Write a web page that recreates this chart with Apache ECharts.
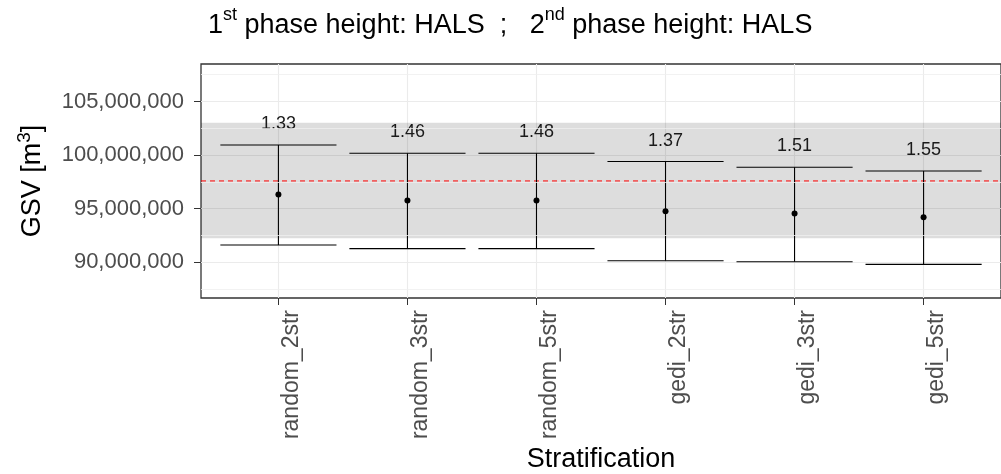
<!DOCTYPE html>
<html>
<head>
<meta charset="utf-8">
<script src="https://cdn.jsdelivr.net/npm/echarts@6/dist/echarts.min.js"></script>
<style>
  html, body { margin: 0; padding: 0; background: #fff; }
  #main { width: 1001px; height: 474px; }
</style>
</head>
<body>
<div id="main"></div>
<script>
// data
var categories = ['random_2str', 'random_3str', 'random_5str', 'gedi_2str', 'gedi_3str', 'gedi_5str'];
var lowerVals = [91.60e6, 91.26e6, 91.26e6, 90.13e6, 90.04e6, 89.79e6];
var meanVals  = [96.32e6, 95.76e6, 95.76e6, 94.76e6, 94.55e6, 94.20e6];
var upperVals = [100.93e6, 100.16e6, 100.16e6, 99.39e6, 98.86e6, 98.51e6];
var ratioLabels = ['1.33', '1.46', '1.48', '1.37', '1.51', '1.55'];

var bandLow = 92.23e6;
var bandHigh = 103.01e6;
var refValue = 97.58e6;

var yMajorBreaks = [90e6, 95e6, 100e6, 105e6];
var yMinorBreaks = [87.5e6, 92.5e6, 97.5e6, 102.5e6, 107.5e6];
var xPositions = categories.map(function (c, i) { return i + 1; });

var FONT = 'Liberation Sans, Arial, sans-serif';

var barData = categories.map(function (c, i) {
    return [i + 1, lowerVals[i], meanVals[i], upperVals[i], i];
});

var chart = echarts.init(document.getElementById('main'), null, { renderer: 'canvas' });

var option = {
    animation: false,
    backgroundColor: '#fff',
    title: {
        left: 203,
        top: 1,
        text: '{n|1}{s|st}{n| phase height: HALS  ;   2}{s|nd}{n| phase height: HALS}',
        textStyle: {
            fontFamily: FONT,
            fontWeight: 'normal',
            rich: {
                n: { fontSize: 27, fontFamily: FONT, fontWeight: 'normal', color: '#000', lineHeight: 40 },
                s: { fontSize: 18, fontFamily: FONT, fontWeight: 'normal', color: '#000', lineHeight: 18, verticalAlign: 'top' }
            }
        }
    },
    grid: {
        left: 201,
        right: -9,
        top: 64,
        bottom: 175,
        show: true,
        borderColor: '#333',
        borderWidth: 1.3,
        backgroundColor: 'transparent'
    },
    xAxis: {
        type: 'value',
        min: 0.4,
        max: 6.6,
        name: 'Stratification',
        nameLocation: 'middle',
        nameGap: 148,
        nameTextStyle: { fontFamily: FONT, fontSize: 27, color: '#000' },
        axisLine: { show: false },
        axisTick: {
            show: true,
            customValues: xPositions,
            length: 7,
            lineStyle: { color: '#333', width: 1 }
        },
        axisLabel: {
            customValues: xPositions,
            rotate: 90,
            margin: 12,
            fontFamily: FONT,
            fontSize: 23,
            color: '#4D4D4D',
            verticalAlign: 'top',
            padding: [2, 0, 0, 0],
            formatter: function (v) { return categories[Math.round(v) - 1] || ''; }
        },
        splitLine: { show: true, lineStyle: { color: '#EBEBEB', width: 1.1 } }
    },
    yAxis: {
        type: 'value',
        min: 86.65e6,
        max: 108.5e6,
        name: '{a|GSV [m}{s|3}{a|]}',
        nameLocation: 'middle',
        nameGap: 150,
        nameTextStyle: {
            fontFamily: FONT,
            rich: {
                a: { fontSize: 27, fontFamily: FONT, color: '#000', lineHeight: 36 },
                s: { fontSize: 19, fontFamily: FONT, color: '#000', lineHeight: 19, verticalAlign: 'top' }
            }
        },
        axisLine: { show: false },
        axisTick: {
            show: true,
            customValues: yMajorBreaks,
            length: 7,
            lineStyle: { color: '#333', width: 1 }
        },
        axisLabel: {
            customValues: yMajorBreaks,
            margin: 17,
            fontFamily: FONT,
            fontSize: 22,
            color: '#4D4D4D',
            formatter: function (v) { return Math.round(v).toLocaleString('en-US'); }
        },
        splitLine: { show: true, lineStyle: { color: '#EBEBEB', width: 1.1 } }
    },
    series: [
        {
            // minor grid lines
            type: 'scatter',
            data: [],
            z: 1,
            silent: true,
            markLine: {
                silent: true,
                symbol: 'none',
                label: { show: false },
                lineStyle: { color: '#EFEFEF', width: 0.8, type: 'solid' },
                data: yMinorBreaks.map(function (v) { return { yAxis: v }; })
            }
        },
        {
            // shaded band
            type: 'scatter',
            data: [],
            z: 2,
            silent: true,
            markArea: {
                silent: true,
                itemStyle: { color: 'rgba(0,0,0,0.135)' },
                data: [[{ yAxis: bandLow }, { yAxis: bandHigh }]]
            }
        },
        {
            // red dashed reference line across the panel
            type: 'custom',
            z: 3,
            silent: true,
            data: [[1, refValue]],
            renderItem: function (params, api) {
                var cs = params.coordSys;
                var p = api.coord([api.value(0), api.value(1)]);
                return {
                    type: 'line',
                    shape: { x1: cs.x, y1: p[1], x2: cs.x + cs.width, y2: p[1] },
                    style: { stroke: '#FF0000', lineWidth: 1, lineDash: [5, 4] }
                };
            }
        },
        {
            type: 'custom',
            z: 4,
            data: barData,
            renderItem: function (params, api) {
                var x = api.value(0);
                var pLow = api.coord([x, api.value(1)]);
                var pMid = api.coord([x, api.value(2)]);
                var pUp = api.coord([x, api.value(3)]);
                var left = api.coord([x - 0.45, api.value(3)])[0];
                var right = api.coord([x + 0.45, api.value(3)])[0];
                var line = { stroke: '#000', lineWidth: 1.1 };
                return {
                    type: 'group',
                    children: [
                        { type: 'line', shape: { x1: pUp[0], y1: pUp[1], x2: pLow[0], y2: pLow[1] }, style: line },
                        { type: 'line', shape: { x1: left, y1: pUp[1], x2: right, y2: pUp[1] }, style: line },
                        { type: 'line', shape: { x1: left, y1: pLow[1], x2: right, y2: pLow[1] }, style: line },
                        { type: 'circle', shape: { cx: pMid[0], cy: pMid[1], r: 3 }, style: { fill: '#000' } },
                        {
                            type: 'text',
                            x: pUp[0],
                            y: pUp[1] - 21,
                            style: {
                                text: ratioLabels[api.value(4)],
                                fontFamily: FONT,
                                fontSize: 18,
                                fill: '#1a1a1a',
                                align: 'center',
                                verticalAlign: 'middle'
                            }
                        }
                    ]
                };
            }
        }
    ]
};

chart.setOption(option);
</script>
</body>
</html>
